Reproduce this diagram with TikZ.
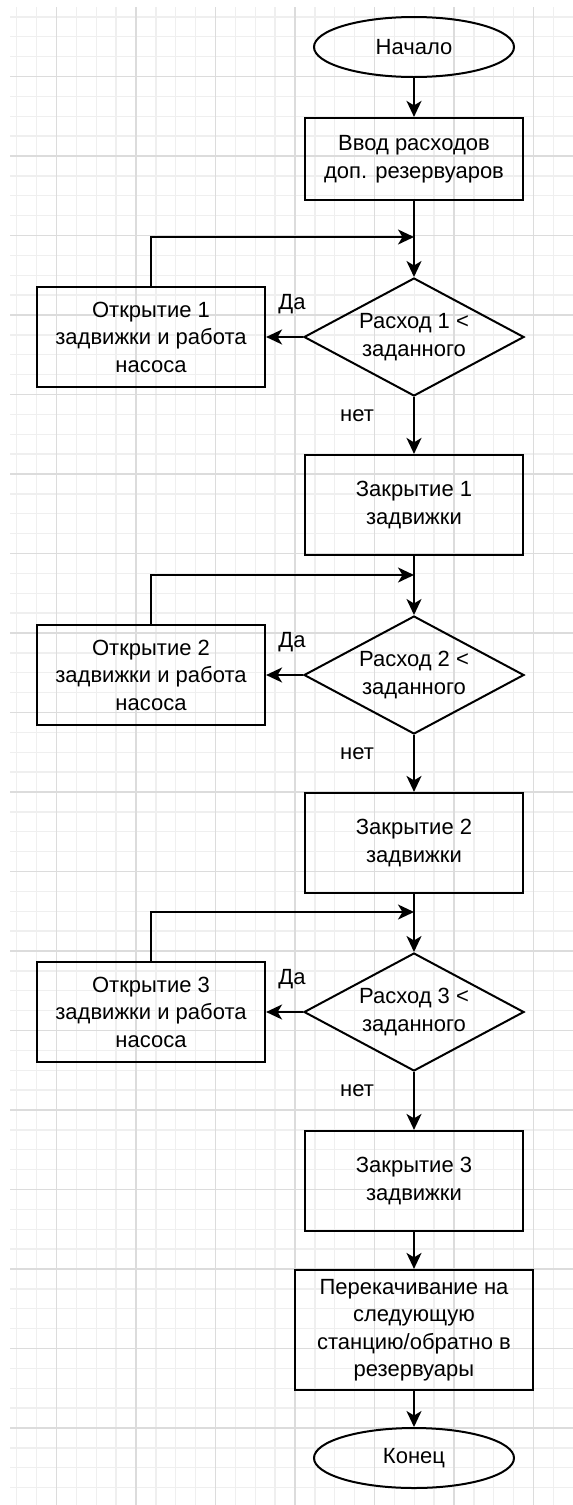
\documentclass[tikz,border=0pt]{standalone}
\usepackage{fontspec}
\setmainfont{Liberation Sans}
\usetikzlibrary{shapes.geometric,arrows.meta}
\definecolor{gridminor}{HTML}{EFEFEF}
\definecolor{gridmajor}{HTML}{DCDCDC}
\begin{document}
\begin{tikzpicture}[x=1pt,y=-1pt,
  txt/.style={font=\fontsize{22}{27.5}\selectfont, align=center},
  terminal/.style={txt, draw, ellipse, line width=2pt, minimum width=200pt, minimum height=60pt, inner sep=0pt},
  proc/.style={txt, draw, line width=2.2pt, minimum width=218pt, minimum height=100pt, inner sep=0pt},
  openbox/.style={proc, minimum width=228pt},
  decision/.style={txt, draw, diamond, line width=2pt, shape aspect=1.87, minimum width=220pt, minimum height=118pt, inner sep=0pt},
  flow/.style={line width=2pt, -{Stealth[length=16pt,width=15pt,inset=4.5pt]}},
  tag/.style={font=\fontsize{22}{27.5}\selectfont, inner sep=0pt}
]
\useasboundingbox (0,0) rectangle (573,1505);
\fill[white] (0,0) rectangle (573,1505);

% background grid: minor lines every quarter of a major cell
\begin{scope}
\clip (10,7) rectangle (573,1505);
\foreach \k in {-2,...,25} {
  \draw[gridminor, line width=1.4pt] ({56.5+19.875*\k},7) -- ({56.5+19.875*\k},1505);
}
\foreach \k in {-3,...,71} {
  \draw[gridminor, line width=1.4pt] (10,{76.5+19.875*\k}) -- (573,{76.5+19.875*\k});
}
\foreach \k in {0,...,6} {
  \draw[gridmajor, line width=1.8pt] ({56.5+79.5*\k},7) -- ({56.5+79.5*\k},1505);
}
\foreach \k in {0,...,17} {
  \draw[gridmajor, line width=1.8pt] (10,{76.5+79.5*\k}) -- (573,{76.5+79.5*\k});
}
\end{scope}

% nodes of the flowchart
\node[terminal] (start) at (414,47) {Начало};
\node[proc, minimum height=82pt] (vvod) at (414,159) {Ввод расходов\\доп. резервуаров};

\coordinate (j1) at (414,237);
\node[decision] (d1) at (414,337) {Расход 1 <\\заданного};
\node[openbox] (o1) at (151,337) {Открытие 1\\задвижки и работа\\насоса};
\node[proc] (z1) at (414,505) {Закрытие 1\\задвижки};

\coordinate (j2) at (414,575);
\node[decision] (d2) at (414,675) {Расход 2 <\\заданного};
\node[openbox] (o2) at (151,675) {Открытие 2\\задвижки и работа\\насоса};
\node[proc] (z2) at (414,843) {Закрытие 2\\задвижки};

\coordinate (j3) at (414,912);
\node[decision] (d3) at (414,1012) {Расход 3 <\\заданного};
\node[openbox] (o3) at (151,1012) {Открытие 3\\задвижки и работа\\насоса};
\node[proc] (z3) at (414,1181) {Закрытие 3\\задвижки};

\node[proc, minimum width=238pt, minimum height=120pt] (pump) at (414,1330) {Перекачивание на\\следующую\\станцию/обратно в\\резервуары};
\node[terminal] (stop) at (414,1458) {Конец};

% branch labels
\node[tag] (da1) at (292,304) {Да};
\node[tag] (net1) at (357,416) {нет};
\node[tag] (da2) at (292,642) {Да};
\node[tag] (net2) at (357,754) {нет};
\node[tag] (da3) at (292,979) {Да};
\node[tag] (net3) at (357,1091) {нет};

% connectors
\draw[flow] (start) -- (vvod);
\draw[flow] (vvod) -- (d1);
\draw[flow] (d1) -- (o1);
\draw[flow] (o1.north) |- (j1);
\draw[flow] (d1) -- (z1);

\draw[flow] (z1) -- (d2);
\draw[flow] (d2) -- (o2);
\draw[flow] (o2.north) |- (j2);
\draw[flow] (d2) -- (z2);

\draw[flow] (z2) -- (d3);
\draw[flow] (d3) -- (o3);
\draw[flow] (o3.north) |- (j3);
\draw[flow] (d3) -- (z3);

\draw[flow] (z3) -- (pump);
\draw[flow] (pump) -- (stop);
\end{tikzpicture}
\end{document}
